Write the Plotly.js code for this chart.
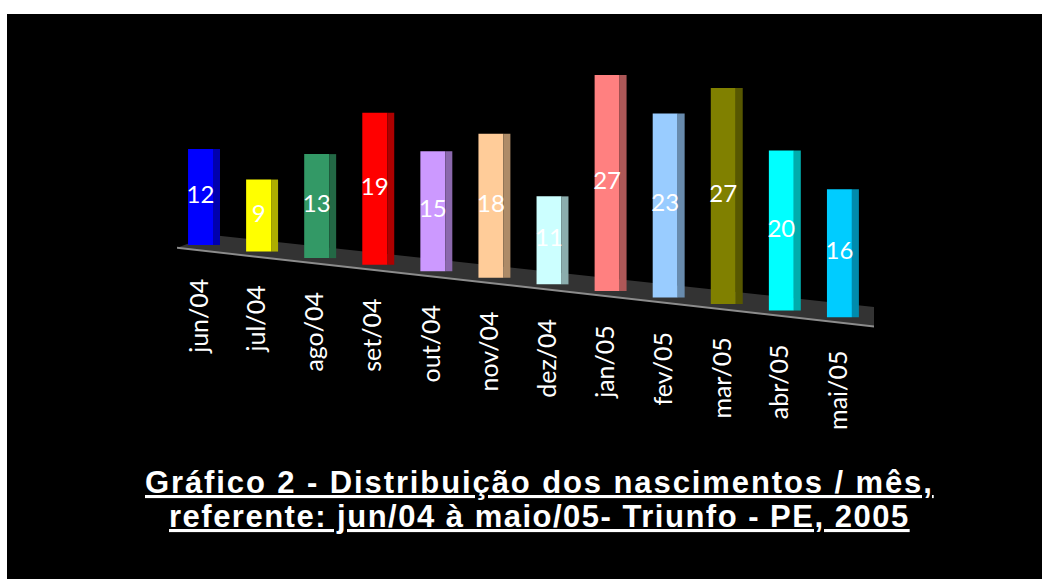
<!DOCTYPE html>
<html><head><meta charset="utf-8">
<script src="https://cdn.plot.ly/plotly-3.0.1.min.js"></script>
<style>
html,body{margin:0;padding:0;background:#ffffff;overflow:hidden;}
#chart{position:absolute;left:7px;top:14px;width:1035px;height:565px;}
</style>
</head><body><div id="chart"></div>
<script>
// ---- data ----
const months = ['jun/04','jul/04','ago/04','set/04','out/04','nov/04','dez/04','jan/05','fev/05','mar/05','abr/05','mai/05'];
const births = [12, 9, 13, 19, 15, 18, 11, 27, 23, 27, 20, 16];
const barColors = ['#0000FF','#FFFF00','#339966','#FF0000','#CC99FF','#FFCC99','#CCFFFF','#FF8080','#99CCFF','#808000','#00FFFF','#00CCFF'];
const titleLines = ['Gráfico 2 - Distribuição dos nascimentos / mês,', 'referente: jun/04 à maio/05- Triunfo - PE, 2005'];

// ---- perspective styling ----
const DROP = 0.82;            // floor drop per category (imitates the tilted 3D floor)
const idx = months.map((_, i) => i);
const bases = idx.map(i => -DROP * i);

function shade(hex, f) {
  const n = parseInt(hex.slice(1), 16);
  const r = Math.round(((n >> 16) & 255) * f), g = Math.round(((n >> 8) & 255) * f), b = Math.round((n & 255) * f);
  return 'rgb(' + r + ',' + g + ',' + b + ')';
}
const sideColors = barColors.map(c => shade(c, 0.68));

const front = {
  type: 'bar', x: idx, y: births, base: bases,
  width: 0.43, offset: -0.31,
  marker: {color: barColors, line: {width: 0}},
  hoverinfo: 'skip', showlegend: false
};
const side = {
  type: 'bar', x: idx, y: births, base: bases,
  width: 0.12, offset: 0.12,
  marker: {color: sideColors, line: {width: 0}},
  hoverinfo: 'skip', showlegend: false
};
const labels = {
  type: 'scatter', mode: 'text',
  x: idx.map(i => i - 0.095),
  y: idx.map(i => bases[i] + births[i] / 2),
  text: births.map(String),
  textposition: 'middle center',
  textfont: {family: 'Lato, "Open Sans", sans-serif', size: 24, color: '#ffffff'},
  cliponaxis: false, hoverinfo: 'skip', showlegend: false
};

// floor (decorative slab)
const FX0 = -0.5, FX1 = 11.6;
const frontY = x => -DROP * x - 0.75;
const backY = x => 1.33 - 0.79 * x;
const floorPath = 'M ' + FX0 + ',' + frontY(FX0) +
  ' L ' + (FX0 + 0.6) + ',' + backY(FX0 + 0.6) +
  ' L ' + FX1 + ',' + backY(FX1) +
  ' L ' + (FX1 - 0.05) + ',' + frontY(FX1 - 0.05) + ' Z';

const annotations = months.map((m, i) => ({
  x: i - 0.15, y: bases[i] - 4, xref: 'x', yref: 'y',
  text: m, textangle: -90, showarrow: false,
  xanchor: 'center', yanchor: 'top',
  font: {family: 'Lato, "Open Sans", sans-serif', size: 25, color: '#ffffff'}
}));
const titleY = [-0.1000, -0.1830];
const titleSpacing = [1.9, 1.5];
titleLines.forEach((t, k) => annotations.push({
  xref: 'paper', yref: 'paper', x: 0.5208, y: titleY[k],
  xanchor: 'center', yanchor: 'middle', showarrow: false,
  text: '<span style="letter-spacing:' + titleSpacing[k] + 'px">' + t + '</span>',
  font: {family: '"Liberation Sans", Arial, sans-serif', size: 31, color: '#ffffff', weight: 'bold', lineposition: 'under'}
}));

const layout = {
  width: 1035, height: 565,
  paper_bgcolor: '#000000', plot_bgcolor: 'rgba(0,0,0,0)',
  margin: {l: 170, r: 168, t: 6, b: 139},
  barmode: 'overlay',
  xaxis: {range: [-0.5, 11.5], visible: false, showgrid: false, zeroline: false},
  yaxis: {range: [-24.375, 28.125], visible: false, showgrid: false, zeroline: false},
  shapes: [
    {type: 'path', xref: 'x', yref: 'y', path: floorPath, fillcolor: '#333333', line: {width: 0}, layer: 'below'},
    {type: 'line', xref: 'x', yref: 'y', x0: FX0, y0: frontY(FX0), x1: FX1 - 0.05, y1: frontY(FX1 - 0.05),
     line: {color: '#8c8c8c', width: 2}, layer: 'below'}
  ],
  annotations: annotations,
  showlegend: false
};

Plotly.newPlot('chart', [front, side, labels], layout, {displayModeBar: false, staticPlot: true});
</script>
</body></html>
